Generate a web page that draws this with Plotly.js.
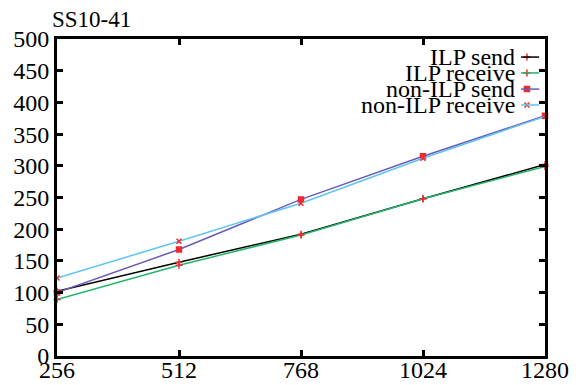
<!DOCTYPE html>
<html>
<head>
<meta charset="utf-8">
<script src="https://cdn.plot.ly/plotly-3.0.1.min.js"></script>
<style>html,body{margin:0;padding:0;background:#fff;}#chart{width:585px;height:385px;}</style>
</head>
<body>
<div id="chart"></div>
<script>
const sizes = [256, 512, 768, 1024, 1280];
const ilpSend = [102, 148, 192, 248, 302];
const ilpReceive = [89, 143, 191, 248, 299];
const nonIlpSend = [100, 168, 247, 315, 379];
const nonIlpReceive = [123, 181, 241, 312, 378];
const seriesNames = ['ILP send', 'ILP receive', 'non-ILP send', 'non-ILP receive'];
const yTicks = [0, 50, 100, 150, 200, 250, 300, 350, 400, 450, 500];

const lineColors = ['#000000', '#22b56a', '#6a5cb8', '#5ec4f2'];
const symbols = ['cross-thin', 'cross-thin', 'square', 'x-thin'];
const msizes = [5, 5, 5, 5];
const red = '#ee2a2e';
const font = 'Times New Roman, Liberation Serif, DejaVu Serif, serif';
const fs = 24;
const data = [ilpSend, ilpReceive, nonIlpSend, nonIlpReceive];

const traces = data.map((ys, i) => ({
  x: sizes, y: ys, type: 'scatter', mode: 'lines+markers', name: seriesNames[i],
  line: {color: lineColors[i], width: 1.5},
  marker: {symbol: symbols[i], size: msizes[i], color: red, line: {color: red, width: 1.5}},
  showlegend: false, cliponaxis: false
}));

const legY = [0.943, 0.893, 0.842, 0.792];
const annotations = [];
const shapes = [];
seriesNames.forEach((n, i) => {
  annotations.push({xref: 'paper', yref: 'paper', x: 0.9426, y: legY[i], xanchor: 'right', yanchor: 'middle',
    text: n, showarrow: false, font: {family: font, size: fs, color: '#000'}});
  shapes.push({type: 'line', xref: 'paper', yref: 'paper', x0: 0.951, x1: 0.988, y0: legY[i], y1: legY[i],
    line: {color: lineColors[i], width: 1.5}});
  traces.push({x: [0.963], y: [legY[i]], xaxis: 'x2', yaxis: 'y2', type: 'scatter', mode: 'markers',
    marker: {symbol: symbols[i], size: msizes[i], color: red, line: {color: red, width: 1.5}},
    showlegend: false, hoverinfo: 'skip', cliponaxis: false});
});
annotations.push({xref: 'paper', yref: 'paper', x: -0.014, y: 1.063, xanchor: 'left', yanchor: 'middle',
  text: 'SS10-41', showarrow: false, font: {family: font, size: 23, color: '#000'}});

const layout = {
  width: 585, height: 385,
  margin: {l: 57, r: 40, t: 39, b: 29},
  paper_bgcolor: '#fff', plot_bgcolor: '#fff',
  showlegend: false,
  font: {family: font, size: fs, color: '#000'},
  xaxis: {range: [256, 1280], tickvals: sizes, ticktext: sizes.map(String), ticks: 'inside', ticklen: 6, tickwidth: 3,
    tickcolor: '#000', showline: true, linewidth: 3, linecolor: '#000', mirror: 'ticks', showgrid: false,
    zeroline: false, tickfont: {family: font, size: fs}, ticklabelstandoff: -10},
  yaxis: {range: [0, 500], tickvals: yTicks, ticks: 'inside', ticklen: 6, tickwidth: 3, tickcolor: '#000',
    showline: true, linewidth: 3, linecolor: '#000', mirror: 'ticks', showgrid: false, zeroline: false,
    tickfont: {family: font, size: fs}, ticklabelstandoff: 0},
  xaxis2: {overlaying: 'x', range: [0, 1], visible: false},
  yaxis2: {overlaying: 'y', range: [0, 1], visible: false},
  annotations: annotations, shapes: shapes
};
Plotly.newPlot('chart', traces, layout, {displayModeBar: false, staticPlot: true});
</script>
</body>
</html>
